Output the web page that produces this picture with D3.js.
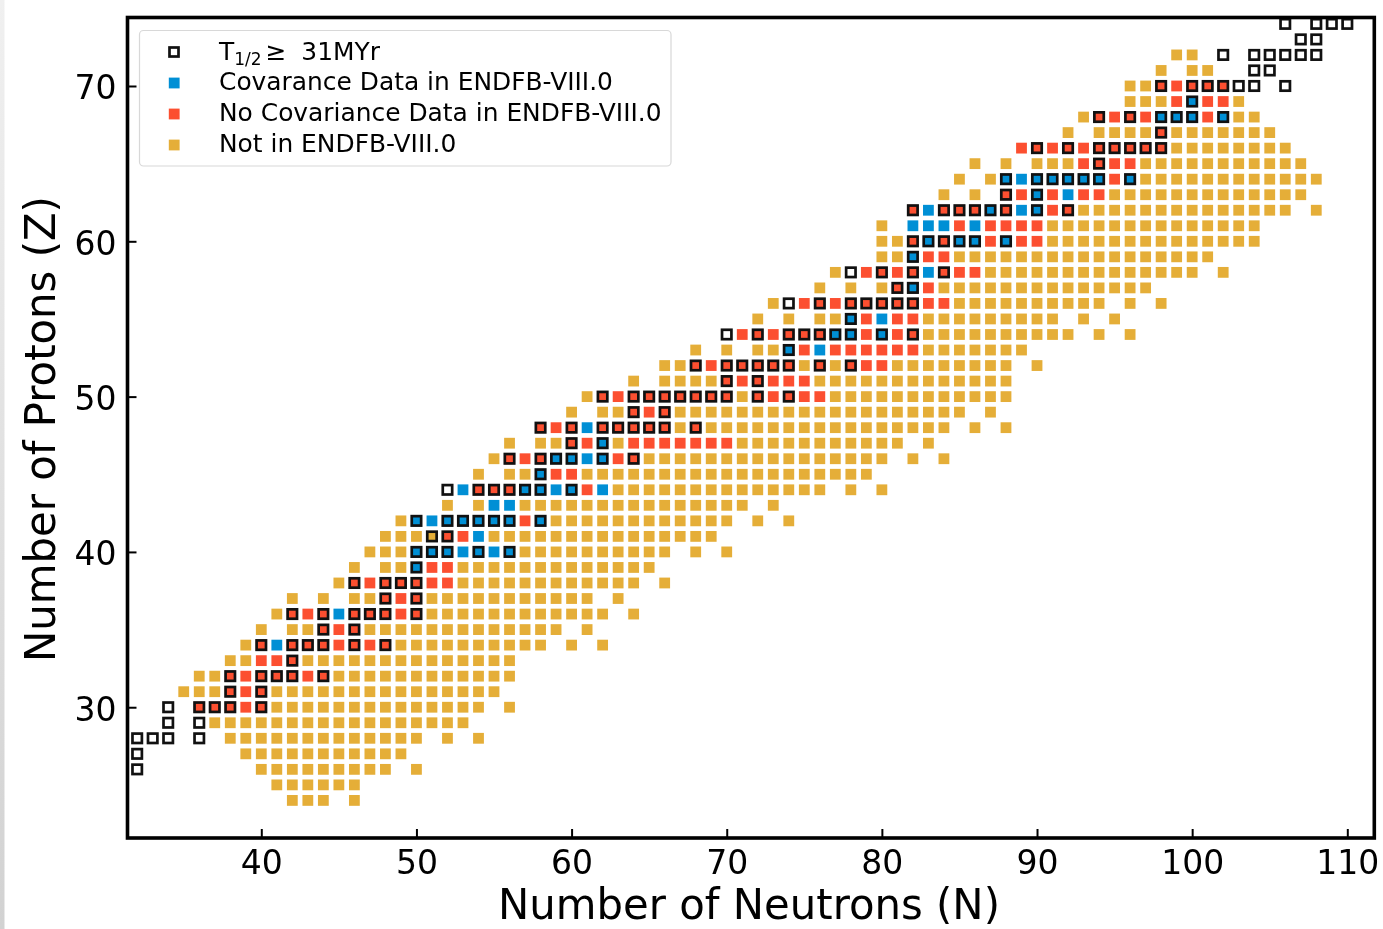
<!DOCTYPE html>
<html>
<head>
<meta charset="utf-8">
<script src="https://cdnjs.cloudflare.com/ajax/libs/d3/7.8.5/d3.min.js"></script>
<style>
html, body { margin: 0; padding: 0; background: #fff; }
svg { display: block; font-family: "DejaVu Sans", sans-serif; filter: blur(0.45px); }
</style>
</head>
<body>
<div id="chart"></div>
<script>
// each row: proton number Z, then neutron numbers N
const notInEndf = [
    [24, "42-44,46"], [25, "41-46"], [26, "40-48,50"], [27, "39-49"],
    [28, "38-50,52,54"], [29, "37-53"], [30, "41-54,56"], [31, "35-37,41-55"],
    [32, "36,37,45-56"], [33, "38,39,43-56"], [34, "39,49-58,60,62"], [35, "40,42,43,47-59,61"],
    [36, "41,51-62,64"], [37, "42,44,46,47,51-61,63"], [38, "45,53-64,66"], [39, "46,48,49,53-65"],
    [40, "47-49,57-66,68,70"], [41, "48-51,55-69"], [42, "49,59-70,72,74"], [43, "52,54,57-71,73"],
    [44, "63-76,78,80"], [45, "54,56,57,61-79"], [46, "55,65-80,82,84"], [47, "56,58,59,63,71-81,83"],
    [48, "67,69-84,86,88"], [49, "60,62,63,67-85,87"], [50, "61,71,77-88"], [51, "64,66-69,76-88"],
    [52, "66,67,75,77,81-88,90"], [53, "68,70,72,73,83-89"], [54, "83-92,94,96"], [55, "72,74,76,77,83-91,93,95"],
    [56, "73,85-94,96,98"], [57, "76,78,80,84-97"], [58, "77,87-100,102"], [59, "80,81,85-101"],
    [60, "80,81,91-104"], [61, "80,91-104"], [62, "93-106,108"], [63, "84,86,95-107"],
    [64, "85,87,97-108"], [65, "86,88,90-92,97-107"], [66, "99-106"], [67, "92,94-97,99-105"],
    [68, "93,103,104"], [69, "96-98,103"], [70, "96,97"], [71, "98,100,101"], [72, "99,100"]
];
const covarianceData = [
    [34, "41"], [36, "45"], [39, "50"], [40, "50-56"], [41, "54"], [42, "50-56,58"],
    [43, "55,56"], [44, "53,57-60,62"], [45, "58"], [46, "59-62"], [47, "62"], [48, "61"],
    [53, "74,76"], [54, "77,78,80"], [55, "78,80"], [57, "82"], [58, "83"], [59, "82"],
    [60, "83,85,86,88"], [61, "82-84,86"], [62, "83,87,89,90"], [63, "90,92"],
    [64, "88-94,96"], [68, "98-100,102"], [69, "100"]
];
const noCovarianceData = [
    [30, "36-40"], [31, "38-40"], [32, "38-44"], [33, "40-42"], [34, "40,42-48"], [35, "44-46"],
    [36, "42-44,46-50"], [37, "48-50"], [38, "46-52"], [39, "51,52"], [41, "52,53"], [42, "57"],
    [44, "54-56,61"], [45, "59,60"], [46, "56-58,63,64"], [47, "60,61,64-70"], [48, "58-60,62-66,68"],
    [49, "64-66"], [50, "62-70,72-76"], [51, "70-75"], [52, "68-74,76,78-80"], [53, "75,77-82"],
    [54, "71-76,79,81,82"], [55, "79,81,82"], [56, "75-84"], [57, "81,83"], [58, "79-82,84-86"],
    [59, "83,84"], [60, "82,84,87,89,90"], [61, "85,87-90"], [62, "82,84-86,88,91,92"],
    [63, "88,89,91,93,94"], [64, "95"], [65, "93-96"], [66, "89-98"], [67, "98"],
    [68, "94-97,101"], [69, "99,101,102"], [70, "98-102"]
];
const longLived = [
    [26, "32"], [27, "32"], [28, "32-34,36"], [29, "34,36"], [30, "34,36-38,40"], [31, "38,40"],
    [32, "38,40-42,44"], [33, "42"], [34, "40,42-44,46,48"], [35, "44,46"], [36, "42,44,46-48,50"],
    [37, "48,50"], [38, "46,48-50"], [39, "50"], [40, "50-52,54,56"], [41, "51,52"], [42, "50,52-56,58"],
    [44, "52,54-58,60"], [45, "58"], [46, "56,58-60,62,64"], [47, "60,62"], [48, "58,60,62-66,68"],
    [49, "64,66"], [50, "62,64-70,72,74"], [51, "70,72"], [52, "68,70-74,76,78"], [53, "74"],
    [54, "70,72,74-78,80,82"], [55, "78"], [56, "74,76,78-82"], [57, "81,82"], [58, "78,80,82,84"],
    [59, "82"], [60, "82-86,88"], [62, "82,84-88,90,92"], [63, "88,90"], [64, "88,90-94,96"],
    [65, "94"], [66, "90,92,94-98"], [67, "98"], [68, "94,96,98-100,102"], [69, "100"],
    [70, "98,100-104,106"], [71, "104,105"], [72, "102,104-108"], [73, "107,108"], [74, "106,108-110"]
];

const xTicks = [40, 50, 60, 70, 80, 90, 100, 110];
const yTicks = [30, 40, 50, 60, 70];
const legendLabels = ["Covarance Data in ENDFB-VIII.0", "No Covariance Data in ENDFB-VIII.0", "Not in ENDFB-VIII.0"];
const legendColors = ["#008fd5", "#fc4f30", "#e5ae38"];

// "42-44,46" -> [42, 43, 44, 46]
function expandRow(text) {
    const out = [];
    text.split(",").forEach(function(part) {
        const ends = part.split("-").map(Number);
        for (let n = ends[0]; n <= ends[ends.length - 1]; n++) out.push(n);
    });
    return out;
}

function toPoints(rows) {
    return rows.flatMap(function(row) {
        return expandRow(row[1]).map(function(n) { return { n: n, z: row[0] }; });
    });
}

const width = 1383, height = 929;
const frame = { left: 127.5, right: 1374.3, top: 17.5, bottom: 838 };

const svg = d3.select("#chart").append("svg")
    .attr("width", width)
    .attr("height", height);

// grey sliver down the left edge of the screenshot
const edge = svg.append("defs").append("linearGradient")
    .attr("id", "edge-gradient")
    .attr("x1", "0%").attr("x2", "0%").attr("y1", "0%").attr("y2", "100%");
edge.append("stop").attr("offset", "0%").attr("stop-color", "#f0f0f0");
edge.append("stop").attr("offset", "100%").attr("stop-color", "#d2d2d2");
svg.append("rect")
    .attr("width", 4.5)
    .attr("height", height)
    .attr("fill", "url(#edge-gradient)");

const x = d3.scaleLinear().domain([31.376, 111.74]).range([frame.left, frame.right]);
const y = d3.scaleLinear().domain([21.58, 74.41]).range([frame.bottom, frame.top]);

const squareSize = 10.8;

function drawSquares(rows, color) {
    svg.append("g").selectAll("rect")
        .data(toPoints(rows))
        .enter()
        .append("rect")
        .attr("x", d => x(d.n) - squareSize / 2)
        .attr("y", d => y(d.z) - squareSize / 2)
        .attr("width", squareSize)
        .attr("height", squareSize)
        .attr("fill", color);
}

drawSquares(notInEndf, legendColors[2]);
drawSquares(noCovarianceData, legendColors[1]);
drawSquares(covarianceData, legendColors[0]);

// black outline goes over whatever colour is underneath
const boxSize = 9.4;
svg.append("g").selectAll("rect")
    .data(toPoints(longLived))
    .enter()
    .append("rect")
    .attr("x", d => x(d.n) - boxSize / 2)
    .attr("y", d => y(d.z) - boxSize / 2)
    .attr("width", boxSize)
    .attr("height", boxSize)
    .attr("fill", "none")
    .attr("stroke", "#111")
    .attr("stroke-width", 2.7);

// axes
const xAxis = svg.append("g")
    .attr("transform", `translate(0,${frame.bottom})`)
    .call(d3.axisBottom(x).tickValues(xTicks).tickSize(-9).tickPadding(13).tickFormat(d3.format("d")));
const yAxis = svg.append("g")
    .attr("transform", `translate(${frame.left},0)`)
    .call(d3.axisLeft(y).tickValues(yTicks).tickSize(-9).tickPadding(11).tickFormat(d3.format("d")));

[xAxis, yAxis].forEach(function(axis) {
    axis.select(".domain").remove();
    axis.selectAll("line").attr("stroke", "#000").attr("stroke-width", 2);
    axis.selectAll("text").attr("fill", "#000").style("font-size", "33px").style("font-family", "DejaVu Sans");
});
yAxis.selectAll("text").attr("dy", "0.39em");

svg.append("rect")
    .attr("x", frame.left)
    .attr("y", frame.top)
    .attr("width", frame.right - frame.left)
    .attr("height", frame.bottom - frame.top)
    .attr("fill", "none")
    .attr("stroke", "#000")
    .attr("stroke-width", 3.6);

svg.append("text")
    .attr("x", 749)
    .attr("y", 919)
    .attr("text-anchor", "middle")
    .style("font-size", "41.8px")
    .text("Number of Neutrons (N)");

svg.append("text")
    .attr("transform", "translate(55,429) rotate(-90)")
    .attr("text-anchor", "middle")
    .style("font-size", "41.8px")
    .text("Number of Protons (Z)");

// legend
const legend = svg.append("g");
legend.append("rect")
    .attr("x", 139.5)
    .attr("y", 30.5)
    .attr("width", 531.5)
    .attr("height", 135.5)
    .attr("rx", 4)
    .attr("fill", "#fff")
    .attr("stroke", "#d8d8d8")
    .attr("stroke-width", 1.2);

const legendY = d3.scalePoint().domain(d3.range(4)).range([52, 145]);
const legendFont = "24.9px";
const legendTextX = 219;

legend.append("rect")
    .attr("x", 169.5)
    .attr("y", legendY(0) - 4.5)
    .attr("width", 9)
    .attr("height", 9)
    .attr("fill", "none")
    .attr("stroke", "#111")
    .attr("stroke-width", 2.7);

const halfLife = legend.append("text")
    .attr("x", legendTextX)
    .attr("y", legendY(0) + 8)
    .style("font-size", legendFont);
halfLife.append("tspan").text("T");
halfLife.append("tspan").attr("dy", 4.5).style("font-size", "17px").text("1/2");
halfLife.append("tspan").attr("dy", -4.5).attr("dx", 4).text("\u2265 ");
halfLife.append("tspan").attr("dx", 7).text("31MYr");

legendLabels.forEach(function(label, i) {
    legend.append("rect")
        .attr("x", 168.8)
        .attr("y", legendY(i + 1) - 5.4)
        .attr("width", 10.8)
        .attr("height", 10.8)
        .attr("fill", legendColors[i]);
    legend.append("text")
        .attr("x", legendTextX)
        .attr("y", legendY(i + 1) + 7)
        .style("font-size", legendFont)
        .text(label);
});
</script>
</body>
</html>
